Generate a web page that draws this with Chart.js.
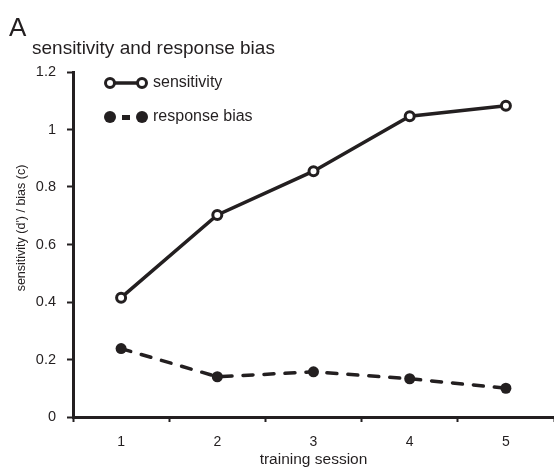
<!DOCTYPE html>
<html>
<head>
<meta charset="utf-8">
<script src="https://cdn.jsdelivr.net/npm/chart.js@4/dist/chart.umd.min.js"></script>
<style>
  html, body { margin: 0; padding: 0; background: #fff; }
  #wrap { position: relative; width: 554px; height: 469px; }
</style>
</head>
<body>
<div id="wrap"><canvas id="chart-sens"></canvas></div>
<script>
const sessions = ["1", "2", "3", "4", "5"];
const sensitivity = [0.415, 0.703, 0.855, 1.046, 1.083];
const responseBias = [0.238, 0.14, 0.157, 0.133, 0.1];
const yTicks = [0, 0.2, 0.4, 0.6, 0.8, 1, 1.2];

const ink = "#231f20";
const font = "'Liberation Sans', Arial, sans-serif";

// titles, y label and the little legend are drawn by hand
const annotations = {
  id: "annotations",
  afterDraw(chart) {
    const ctx = chart.ctx;
    ctx.save();
    ctx.fillStyle = ink;
    ctx.textBaseline = "alphabetic";
    ctx.textAlign = "left";
    ctx.font = "26px " + font;
    ctx.fillText("A", 9, 36);
    ctx.font = "19px " + font;
    ctx.fillText("sensitivity and response bias", 32, 54);

    ctx.save();
    ctx.translate(25, 228);
    ctx.rotate(-Math.PI / 2);
    ctx.textAlign = "center";
    ctx.font = "12.5px " + font;
    ctx.fillText("sensitivity (d') / bias (c)", 0, 0);
    ctx.restore();

    // legend
    ctx.strokeStyle = ink;
    ctx.lineWidth = 3.5;
    ctx.beginPath();
    ctx.moveTo(110, 83);
    ctx.lineTo(142, 83);
    ctx.stroke();
    [110, 142].forEach((x) => {
      ctx.beginPath();
      ctx.arc(x, 83, 4.5, 0, Math.PI * 2);
      ctx.fillStyle = "#fff";
      ctx.fill();
      ctx.lineWidth = 3;
      ctx.stroke();
    });
    ctx.fillStyle = ink;
    ctx.fillRect(122, 115, 8, 5);
    [110, 142].forEach((x) => {
      ctx.beginPath();
      ctx.arc(x, 117, 6, 0, Math.PI * 2);
      ctx.fill();
    });
    ctx.font = "16px " + font;
    ctx.textBaseline = "middle";
    ctx.fillText("sensitivity", 153, 83);
    ctx.fillText("response bias", 153, 117);
    ctx.restore();
  },
};

new Chart(document.getElementById("chart-sens"), {
  type: "line",
  plugins: [annotations],
  data: {
    labels: sessions,
    datasets: [
      {
        label: "sensitivity",
        data: sensitivity,
        borderColor: ink,
        borderWidth: 3.5,
        pointRadius: 4.5,
        pointBorderWidth: 3,
        pointBorderColor: ink,
        pointBackgroundColor: "#fff",
        tension: 0,
        clip: false,
      },
      {
        label: "response bias",
        data: responseBias,
        borderColor: ink,
        borderWidth: 3.5,
        borderDash: [10, 11],
        borderCapStyle: "round",
        pointRadius: 5.5,
        pointBorderWidth: 0,
        pointBackgroundColor: ink,
        tension: 0,
        clip: false,
      },
    ],
  },
  options: {
    responsive: true,
    maintainAspectRatio: false,
    animation: false,
    layout: {
      autoPadding: false,
      padding: { top: 72, right: 0, left: 0, bottom: 0 },
    },
    plugins: {
      legend: { display: false },
      tooltip: { enabled: false },
    },
    scales: {
      x: {
        offset: true,
        afterFit(scale) {
          scale.height = 52;
          scale.paddingLeft = 0;
          scale.paddingRight = 0;
        },
        border: { display: true, color: ink, width: 3 },
        grid: {
          offset: true,
          drawOnChartArea: false,
          drawTicks: true,
          tickLength: 5,
          tickWidth: 2,
          tickColor: ink,
        },
        ticks: {
          color: ink,
          padding: 12,
          font: { size: 14, family: font },
          maxRotation: 0,
        },
        title: {
          display: true,
          text: "training session",
          color: ink,
          padding: { top: -6, bottom: 0 },
          font: { size: 15.5, family: font },
        },
      },
      y: {
        min: 0,
        max: 1.2,
        afterFit(scale) { scale.width = 73; },
        afterBuildTicks(scale) {
          scale.ticks = yTicks.map((v) => ({ value: v }));
        },
        border: { display: true, color: ink, width: 3 },
        grid: {
          drawOnChartArea: false,
          drawTicks: true,
          tickLength: 6,
          tickWidth: 2,
          tickColor: ink,
        },
        ticks: {
          color: ink,
          padding: 11,
          font: { size: 14.5, family: font },
          callback: (v) => String(Math.round(v * 10) / 10),
        },
      },
    },
  },
});
</script>
</body>
</html>
